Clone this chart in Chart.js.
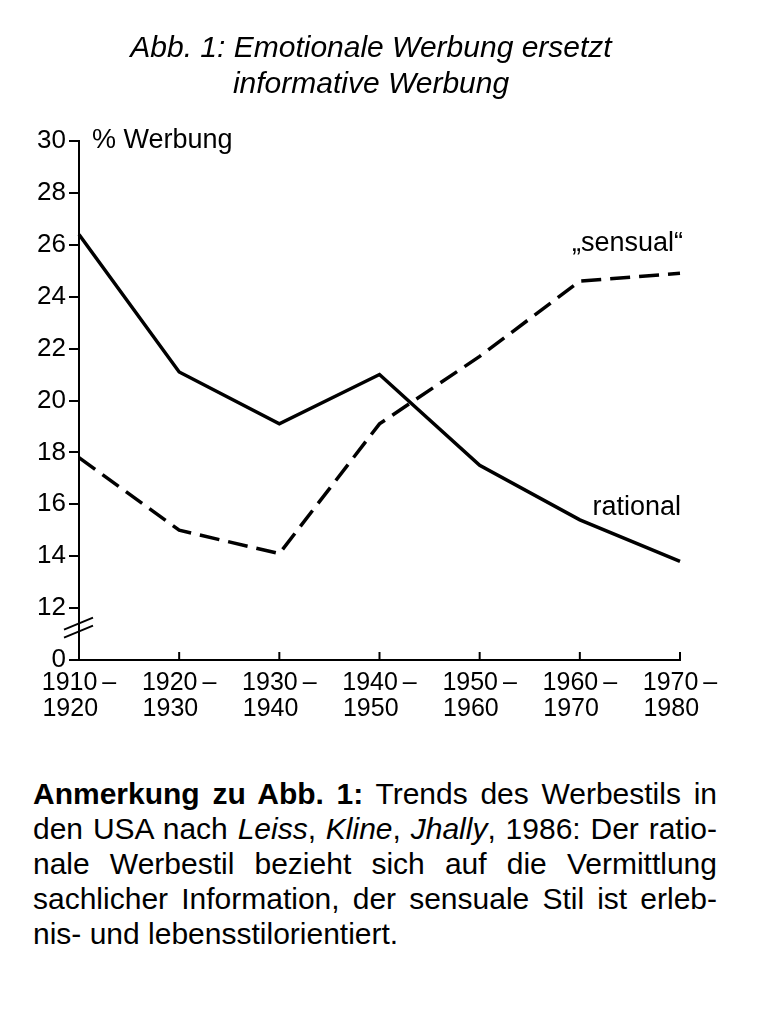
<!DOCTYPE html>
<html lang="de">
<head>
<meta charset="utf-8">
<title>Abb. 1: Emotionale Werbung ersetzt informative Werbung</title>
<script src="https://cdn.jsdelivr.net/npm/chart.js@4.4.1/dist/chart.umd.min.js"></script>
<style>
  body { margin: 0; background: #fff; font-family: "Liberation Sans", Arial, sans-serif; color: #000; }
  .page { position: relative; width: 765px; height: 1010px; }
  .title { position: absolute; left: 0; top: 29px; width: 742px; text-align: center;
           font-style: italic; font-size: 30px; line-height: 36px; }
  .chart-box { position: absolute; left: 0; top: 0; width: 765px; height: 740px; }
  .note { position: absolute; left: 33px; top: 776px; width: 684px; font-size: 30px; line-height: 35px; }
  .note div { text-align: justify; text-align-last: justify; white-space: nowrap; }
  .note div.last { text-align: left; text-align-last: left; }
</style>
</head>
<body>
<div class="page">
  <div class="chart-box"><canvas id="werbung"></canvas></div>
  <div class="title">Abb. 1: Emotionale Werbung ersetzt<br>informative Werbung</div>
  <div class="note">
    <div><b>Anmerkung zu Abb. 1:</b> Trends des Werbestils in</div>
    <div>den USA nach <i>Leiss</i>, <i>Kline</i>, <i>Jhally</i>, 1986: Der ratio-</div>
    <div>nale Werbestil bezieht sich auf die Vermittlung</div>
    <div>sachlicher Information, der sensuale Stil ist erleb-</div>
    <div class="last">nis- und lebensstilorientiert.</div>
  </div>
</div>
<script>
// decades (two-line tick labels)
const periodStart = ['1910', '1920', '1930', '1940', '1950', '1960', '1970'];
const periodEnd = ['1920', '1930', '1940', '1950', '1960', '1970', '1980'];

// % of ads per style
const rational = [26.4, 21.1, 19.1, 21.0, 17.5, 15.4, 13.8];
const sensual = [17.8, 15.0, 14.1, 19.1, 21.7, 24.6, 24.9];

const yTicks = [10, 12, 14, 16, 18, 20, 22, 24, 26, 28, 30];
const brokenBase = 10; // printed as "0" below the axis break
const unitLabel = '% Werbung';
const seriesNames = ['rational', '\u201Esensual\u201C'];

// second line padded so both lines start at the same x
const labels = periodStart.map((s, i) => [s + '\u2009\u2013', periodEnd[i] + '\u2009\u2002']);

const FONT = '"Liberation Sans", Arial, sans-serif';

// inward x ticks, axis break and the text labels inside the plot
const extras = {
  id: 'extras',
  afterDraw(chart) {
    const { ctx, scales: { x, y } } = chart;
    ctx.save();
    ctx.strokeStyle = '#000';
    ctx.lineWidth = 2;
    labels.forEach((l, i) => {
      if (i === 0) return;
      const px = x.getPixelForValue(i);
      ctx.beginPath();
      ctx.moveTo(px, y.bottom);
      ctx.lineTo(px, y.bottom - 8);
      ctx.stroke();
    });

    // axis break "//"
    const by = y.getPixelForValue(11.25);
    const ax = x.left;
    [-4, 4].forEach(d => {
      ctx.beginPath();
      ctx.moveTo(ax - 15, by + d + 6);
      ctx.lineTo(ax + 14, by + d - 6);
      ctx.stroke();
    });

    ctx.fillStyle = '#000';
    ctx.font = '27px ' + FONT;
    ctx.textBaseline = 'middle';
    ctx.textAlign = 'left';
    ctx.fillText(unitLabel, ax + 13, y.getPixelForValue(30));

    const last = labels.length - 1;
    const lx = x.getPixelForValue(last);
    ctx.textAlign = 'right';
    ctx.fillText(seriesNames[1], lx + 3, y.getPixelForValue(sensual[last]) - 30);
    ctx.fillText(seriesNames[0], lx + 1, y.getPixelForValue(rational[last]) - 54);
    ctx.restore();
  }
};

new Chart(document.getElementById('werbung'), {
  type: 'line',
  data: {
    labels: labels,
    datasets: [
      {
        label: seriesNames[0],
        data: rational,
        borderColor: '#000',
        borderWidth: 3.5,
        pointRadius: 0,
        tension: 0,
        clip: false,
      },
      {
        label: seriesNames[1],
        data: sensual,
        borderColor: '#000',
        borderWidth: 3.5,
        borderDash: [20, 9],
        pointRadius: 0,
        tension: 0,
        clip: false,
      },
    ],
  },
  options: {
    responsive: true,
    maintainAspectRatio: false,
    animation: false,
    layout: { padding: { top: 141, right: 85, left: 0, bottom: 0 } },
    plugins: {
      legend: { display: false },
      tooltip: { enabled: false },
      title: { display: false },
    },
    scales: {
      x: {
        type: 'category',
        offset: false,
        grid: { display: false },
        border: { display: true, color: '#000', width: 2 },
        ticks: {
          color: '#000',
          font: { family: FONT, size: 25, lineHeight: 1.04 },
          padding: 2,
          autoSkip: false,
          maxRotation: 0,
        },
        afterFit(scale) { scale.height = 80; },
      },
      y: {
        min: yTicks[0],
        max: yTicks[yTicks.length - 1],
        afterBuildTicks(scale) { scale.ticks = yTicks.map(v => ({ value: v })); },
        ticks: {
          color: '#000',
          font: { family: FONT, size: 26 },
          padding: 3,
          callback: v => (v === brokenBase ? '0' : String(v)),
        },
        grid: { drawOnChartArea: false, drawTicks: true, tickLength: 10, color: '#000', lineWidth: 2 },
        border: { display: true, color: '#000', width: 2 },
        afterFit(scale) { scale.width = 79; },
      },
    },
  },
  plugins: [extras],
});
</script>
</body>
</html>
